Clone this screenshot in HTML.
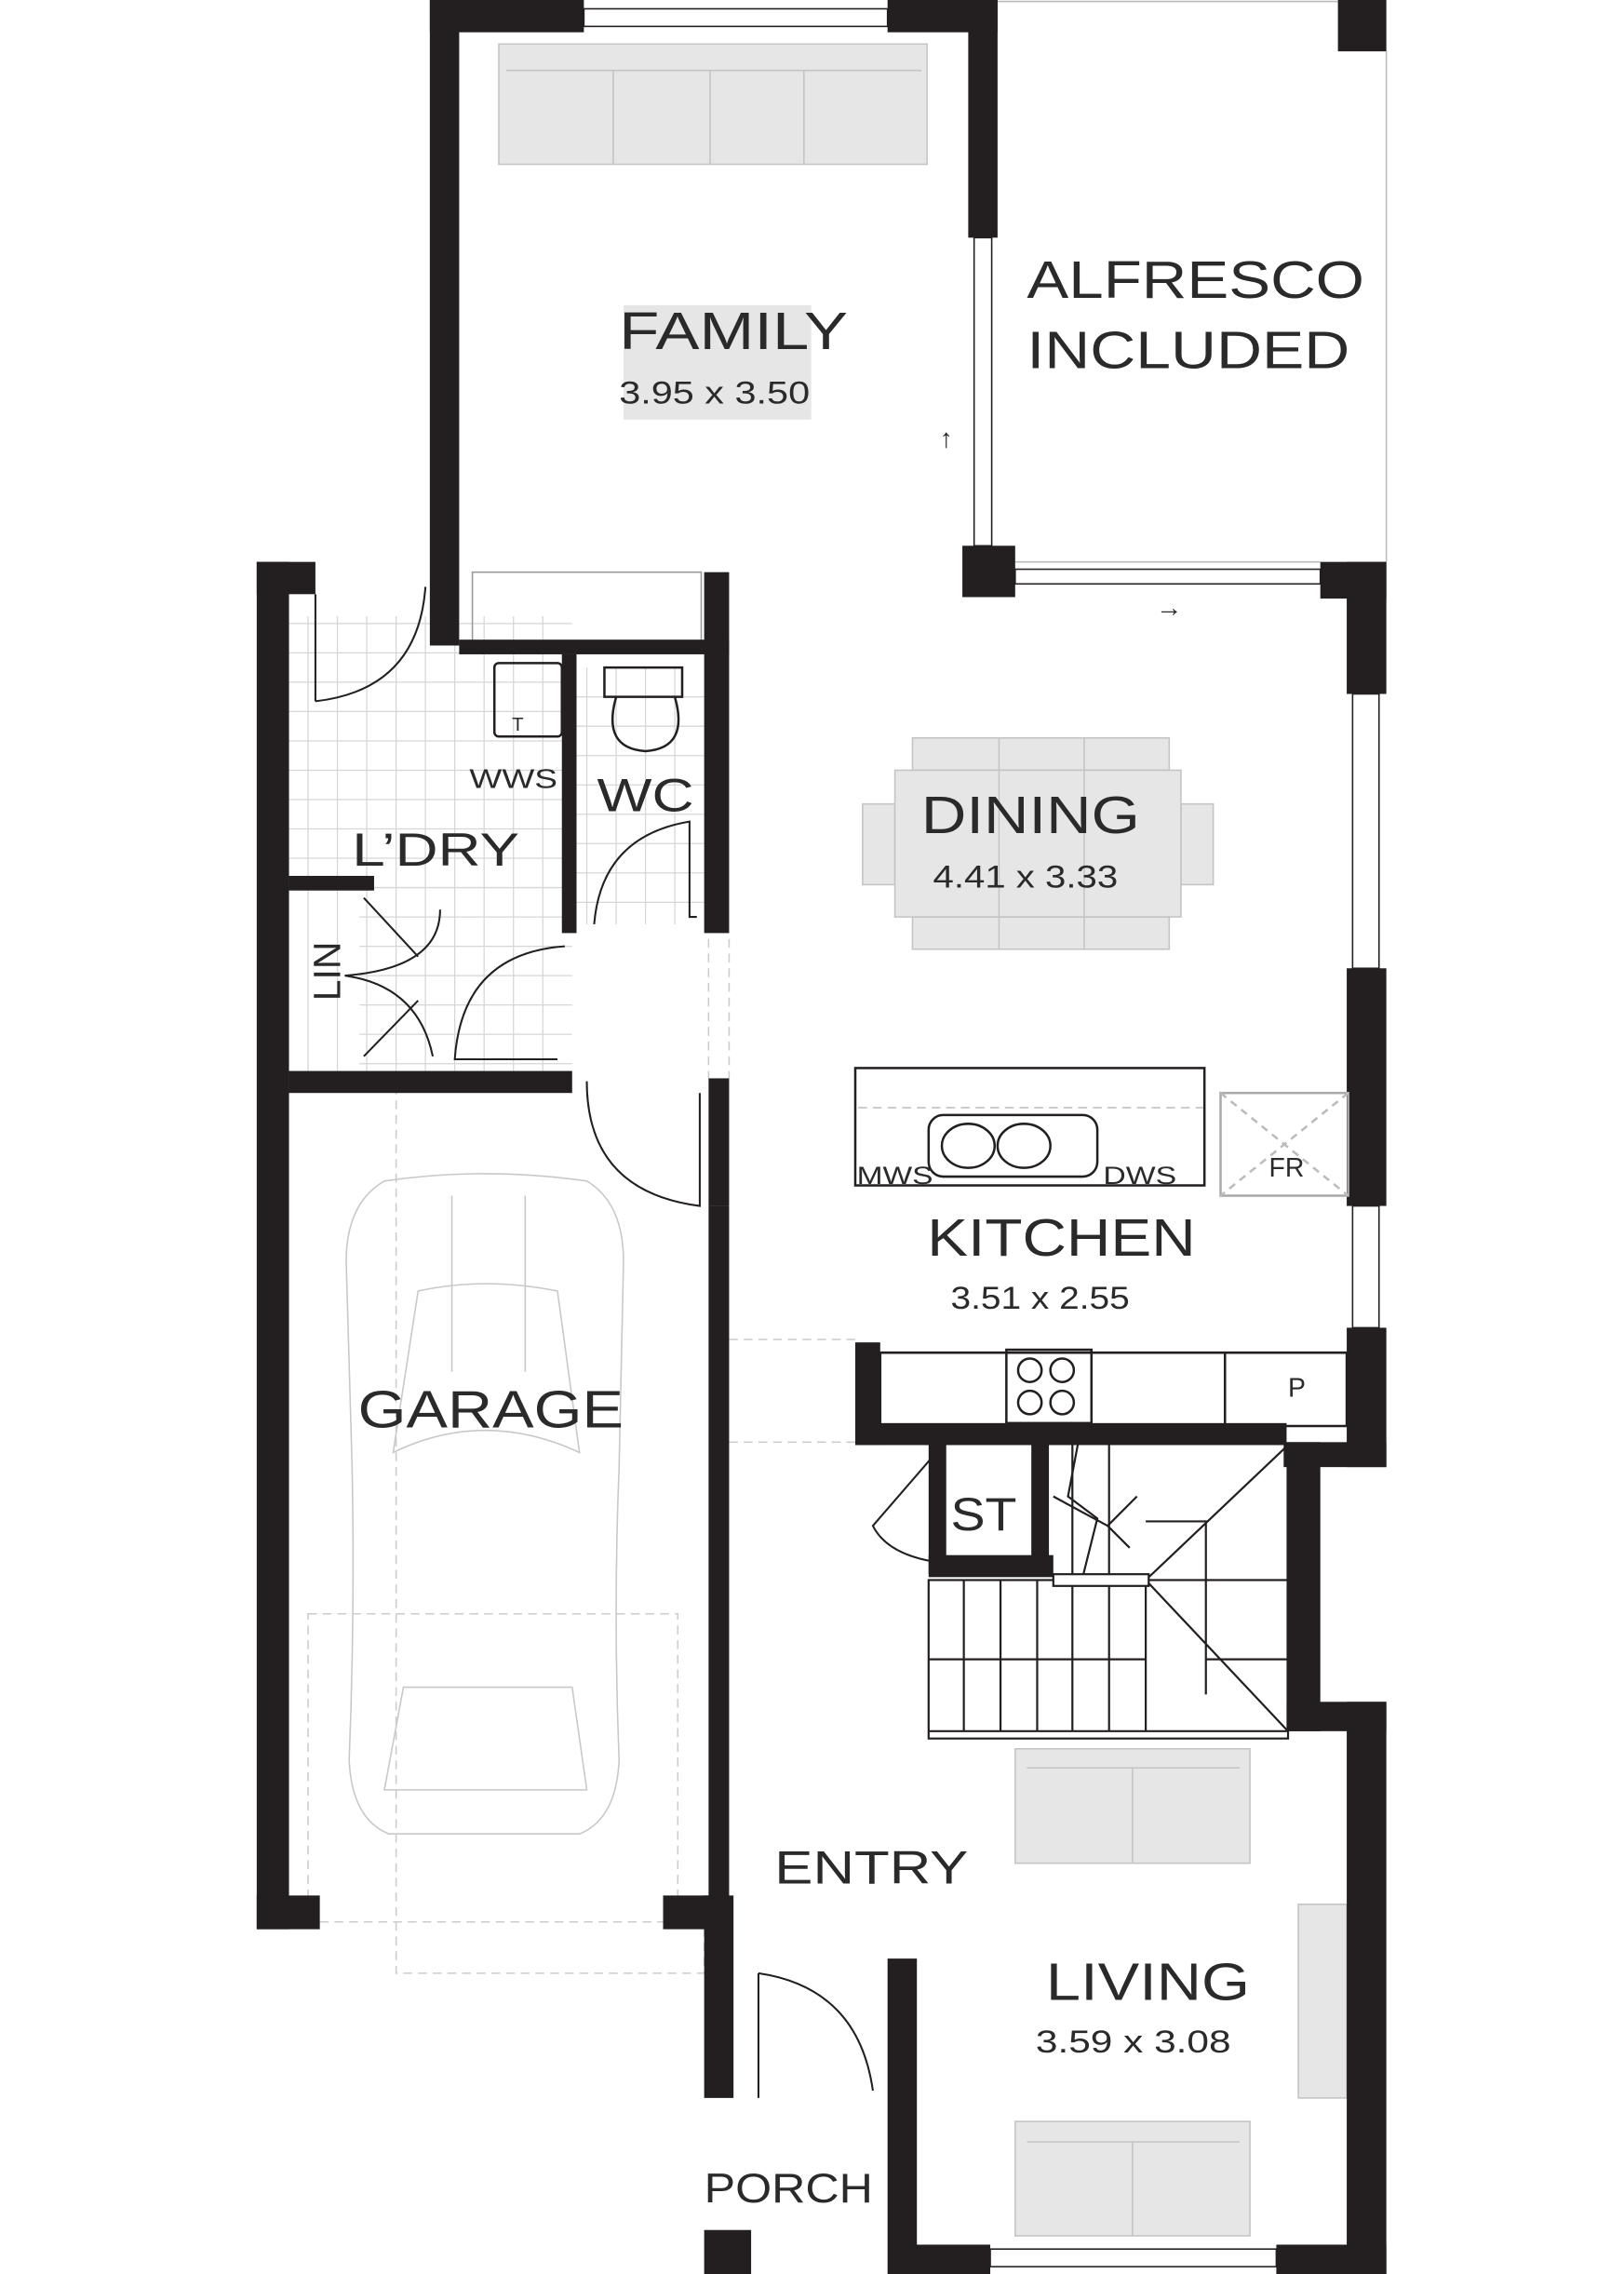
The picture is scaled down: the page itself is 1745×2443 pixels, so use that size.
<!DOCTYPE html>
<html><head><meta charset="utf-8"><style>
html,body{margin:0;padding:0;background:#fff}
svg{display:block}
text{font-family:"Liberation Sans",sans-serif;fill:#2a2a2a}
</style></head><body>
<svg width="1745" height="2443" viewBox="0 0 1107 1550" preserveAspectRatio="none" xmlns="http://www.w3.org/2000/svg">
<rect width="1107" height="1550" fill="#fff"/>
<g stroke="#d6d6d6" stroke-width="0.8">
<path d="M210 420V735M230 420V735M250 420V735M270 420V735M290 420V735M310 420V735M330 420V735M350 420V735M370 420V735M400 455V630M420 455V630M440 455V630M460 455V630
M197 425H390M197 445H390M197 465H390M197 485H390M197 505H390M197 525H390M197 545H390M197 565H390M197 585H390M245 605H390M245 625H390M245 645H390M245 665H390M245 685H390M245 705H390M245 725H390M390 475H480M390 495H480M390 515H480M390 535H480M390 555H480M390 575H480M390 595H480M390 615H480"/>
</g>
<g stroke="#bbb" stroke-width="1" fill="none">
<path d="M680 1H912M945 35V383M692 383H900"/>
</g>
<g fill="#e6e6e6" stroke="#c4c4c4" stroke-width="1">
<rect x="340" y="30" width="292" height="82"/>
<rect x="425" y="208" width="128" height="78" stroke="none"/>
<rect x="622" y="503" width="175" height="22"/><rect x="622" y="625" width="175" height="22"/>
<rect x="588" y="548" width="22" height="55"/><rect x="805" y="548" width="22" height="55"/>
<rect x="610" y="525" width="195" height="100"/>
<rect x="692" y="1192" width="160" height="78"/>
<rect x="692" y="1446" width="160" height="78"/>
<rect x="885" y="1298" width="33" height="132"/>
</g>
<g stroke="#c4c4c4" stroke-width="1" fill="none">
<path d="M418 48V112M484 48V112M548 48V112M345 48H628"/>
<path d="M681 503V647M739 503V647"/>
<path d="M772 1205V1270M772 1460V1524M700 1205H845M700 1460H845"/>
</g>
<rect x="322" y="390" width="156" height="48" fill="none" stroke="#999" stroke-width="1"/>
<g stroke="#c8c8c8" stroke-width="1" fill="none">
<path d="M262 805 Q330 795 400 805 Q425 820 425 860 L422 1000 Q418 1100 422 1200 Q420 1240 395 1250 L265 1250 Q240 1240 238 1200 Q242 1100 240 1000 L236 860 Q236 820 262 805Z"/>
<path d="M268 990 Q330 960 395 990 L380 880 Q330 870 285 880Z"/>
<path d="M275 1150 L390 1150 L400 1220 L262 1220Z"/>
<path d="M308 815V935M358 815V935"/>
</g>
<rect x="210" y="1100" width="252" height="210" fill="none" stroke="#ccc" stroke-dasharray="6 4"/>
<g stroke="#ccc" stroke-dasharray="6 4" fill="none"><path d="M270 740V1345H480V1310M497 913H583M497 983H583M483 640V735M497 640V735"/></g>
<g fill="#231f20">
<rect x="293" y="0" width="20" height="440"/>
<rect x="293" y="0" width="105" height="22"/><rect x="605" y="0" width="75" height="22"/>
<rect x="660" y="0" width="20" height="162"/>
<rect x="656" y="372" width="36" height="35"/>
<rect x="912" y="0" width="33" height="35"/>
<rect x="900" y="383" width="45" height="25"/>
<rect x="918" y="383" width="27" height="90"/>
<rect x="918" y="660" width="27" height="162"/>
<rect x="918" y="905" width="27" height="95"/>
<rect x="875" y="983" width="70" height="17"/>
<rect x="877" y="983" width="23" height="197"/>
<rect x="877" y="1160" width="68" height="20"/>
<rect x="918" y="1160" width="27" height="390"/>
<rect x="607" y="1530" width="68" height="20"/><rect x="870" y="1530" width="75" height="20"/>
<rect x="605" y="1335" width="20" height="215"/>
<rect x="313" y="436" width="184" height="10"/>
<rect x="480" y="390" width="17" height="56"/>
<rect x="383" y="446" width="10" height="190"/>
<rect x="480" y="446" width="17" height="190"/>
<rect x="175" y="383" width="40" height="22"/>
<rect x="175" y="383" width="22" height="932"/>
<rect x="175" y="1292" width="43" height="23"/>
<rect x="197" y="597" width="58" height="10"/>
<rect x="197" y="730" width="193" height="15"/>
<rect x="483" y="735" width="14" height="87"/>
<rect x="483" y="822" width="14" height="490"/>
<rect x="452" y="1292" width="45" height="23"/>
<rect x="480" y="1292" width="20" height="138"/>
<rect x="480" y="1520" width="32" height="30"/>
<rect x="583" y="915" width="17" height="70"/>
<rect x="583" y="970" width="294" height="15"/>
<rect x="633" y="983" width="12" height="90"/>
<rect x="703" y="983" width="12" height="90"/>
<rect x="633" y="1060" width="85" height="15"/>
</g>
<g stroke="#231f20" stroke-width="1" fill="#fff">
<rect x="398" y="6" width="207" height="12"/>
<rect x="664" y="162" width="12" height="210"/>
<rect x="692" y="388" width="208" height="10"/>
<rect x="922" y="473" width="18" height="187"/>
<rect x="922" y="822" width="18" height="83"/>
<rect x="675" y="1533" width="195" height="12"/>
</g>
<g stroke="#231f20" stroke-width="1.6" fill="none">
<rect x="583" y="728" width="238" height="80"/>
<rect x="832" y="745" width="87" height="70" stroke="#aaa"/>
<path d="M832 745L919 815M919 745L832 815" stroke="#bbb" stroke-dasharray="5 4"/>
<path d="M600 922H918V972H600Z"/>
<path d="M835 922V972"/>
<rect x="686" y="920" width="58" height="50"/>
<circle cx="702" cy="934" r="8"/><circle cx="724" cy="934" r="8"/><circle cx="702" cy="956" r="8"/><circle cx="724" cy="956" r="8"/>
<rect x="633" y="760" width="115" height="42" rx="10"/>
<ellipse cx="660" cy="781" rx="18" ry="15"/><ellipse cx="698" cy="781" rx="18" ry="15"/>
<rect x="337" y="452" width="46" height="50" rx="3"/>
<path d="M412 455H465V475H412ZM420 475Q410 510 440 512Q470 510 460 475"/>
</g>
<path d="M585 755H820" stroke="#bbb" stroke-dasharray="6 4"/>
<g stroke="#231f20" stroke-width="1.3" fill="none">
<path d="M290 400Q285 470 215 478M215 405V478"/>
<path d="M475 625H470V560Q410 570 405 630"/>
<path d="M385 645Q315 650 310 722H380"/>
<path d="M248 612L285 652M248 720L285 682M235 665Q300 660 300 620M235 665Q285 672 295 720"/>
<path d="M400 737Q400 812 477 822V745"/>
<path d="M640 988L595 1040Q605 1060 640 1065"/>
<path d="M517 1345V1430M517 1345Q585 1355 595 1425"/>
</g>
<g stroke="#231f20" stroke-width="1.4" fill="none">
<rect x="633" y="1077" width="245" height="108"/>
<path d="M657 1077V1180M682 1077V1180M707 1077V1180M731 1077V1180M756 1077V1180M781 1077V1180M633 1131H781M633 1180H878"/>
<path d="M731 983V1077M756 983V1077M781 1037H822V1155M822 1131H878M781 1077L878 985M781 1077L878 1180"/>
<path d="M735 983L728 1020L748 1035L738 1075M718 1020L755 1040M755 1040L775 1020M755 1040L770 1055"/>
<rect x="718" y="1073" width="65" height="8" fill="#fff"/>
</g>
<g>
<text x="422" y="238" font-size="36" textLength="156" lengthAdjust="spacingAndGlyphs">FAMILY</text>
<text x="422" y="275" font-size="22" textLength="130" lengthAdjust="spacingAndGlyphs">3.95 x 3.50</text>
<text x="700" y="203" font-size="36" textLength="230" lengthAdjust="spacingAndGlyphs">ALFRESCO</text>
<text x="700" y="251" font-size="36" textLength="220" lengthAdjust="spacingAndGlyphs">INCLUDED</text>
<text x="628" y="568" font-size="36" textLength="149" lengthAdjust="spacingAndGlyphs">DINING</text>
<text x="636" y="605" font-size="22" textLength="126" lengthAdjust="spacingAndGlyphs">4.41 x 3.33</text>
<text x="407" y="553" font-size="32" textLength="66" lengthAdjust="spacingAndGlyphs">WC</text>
<text x="320" y="537" font-size="18" textLength="60" lengthAdjust="spacingAndGlyphs">WWS</text>
<text x="353" y="498" font-size="13" text-anchor="middle">T</text>
<text x="240" y="590" font-size="32" textLength="114" lengthAdjust="spacingAndGlyphs">L’DRY</text>
<text x="632" y="856" font-size="36" textLength="183" lengthAdjust="spacingAndGlyphs">KITCHEN</text>
<text x="648" y="892" font-size="22" textLength="122" lengthAdjust="spacingAndGlyphs">3.51 x 2.55</text>
<text x="584" y="807" font-size="17" textLength="52" lengthAdjust="spacingAndGlyphs">MWS</text>
<text x="752" y="807" font-size="17" textLength="50" lengthAdjust="spacingAndGlyphs">DWS</text>
<text x="877" y="802" font-size="18" text-anchor="middle">FR</text>
<text x="884" y="952" font-size="18" text-anchor="middle">P</text>
<text x="244" y="973" font-size="36" textLength="181" lengthAdjust="spacingAndGlyphs">GARAGE</text>
<text x="648" y="1043" font-size="32" textLength="45" lengthAdjust="spacingAndGlyphs">ST</text>
<text x="528" y="1284" font-size="32" textLength="132" lengthAdjust="spacingAndGlyphs">ENTRY</text>
<text x="713" y="1363" font-size="36" textLength="139" lengthAdjust="spacingAndGlyphs">LIVING</text>
<text x="706" y="1399" font-size="22" textLength="133" lengthAdjust="spacingAndGlyphs">3.59 x 3.08</text>
<text x="480" y="1501" font-size="28" textLength="115" lengthAdjust="spacingAndGlyphs">PORCH</text>
<text x="645" y="305" font-size="18" text-anchor="middle">↑</text>
<text x="797" y="420" font-size="18" text-anchor="middle">→</text>
</g>
<text x="232" y="662" font-size="26" text-anchor="middle" transform="rotate(-90 232 662)">LIN</text>
</svg>
</body></html>
